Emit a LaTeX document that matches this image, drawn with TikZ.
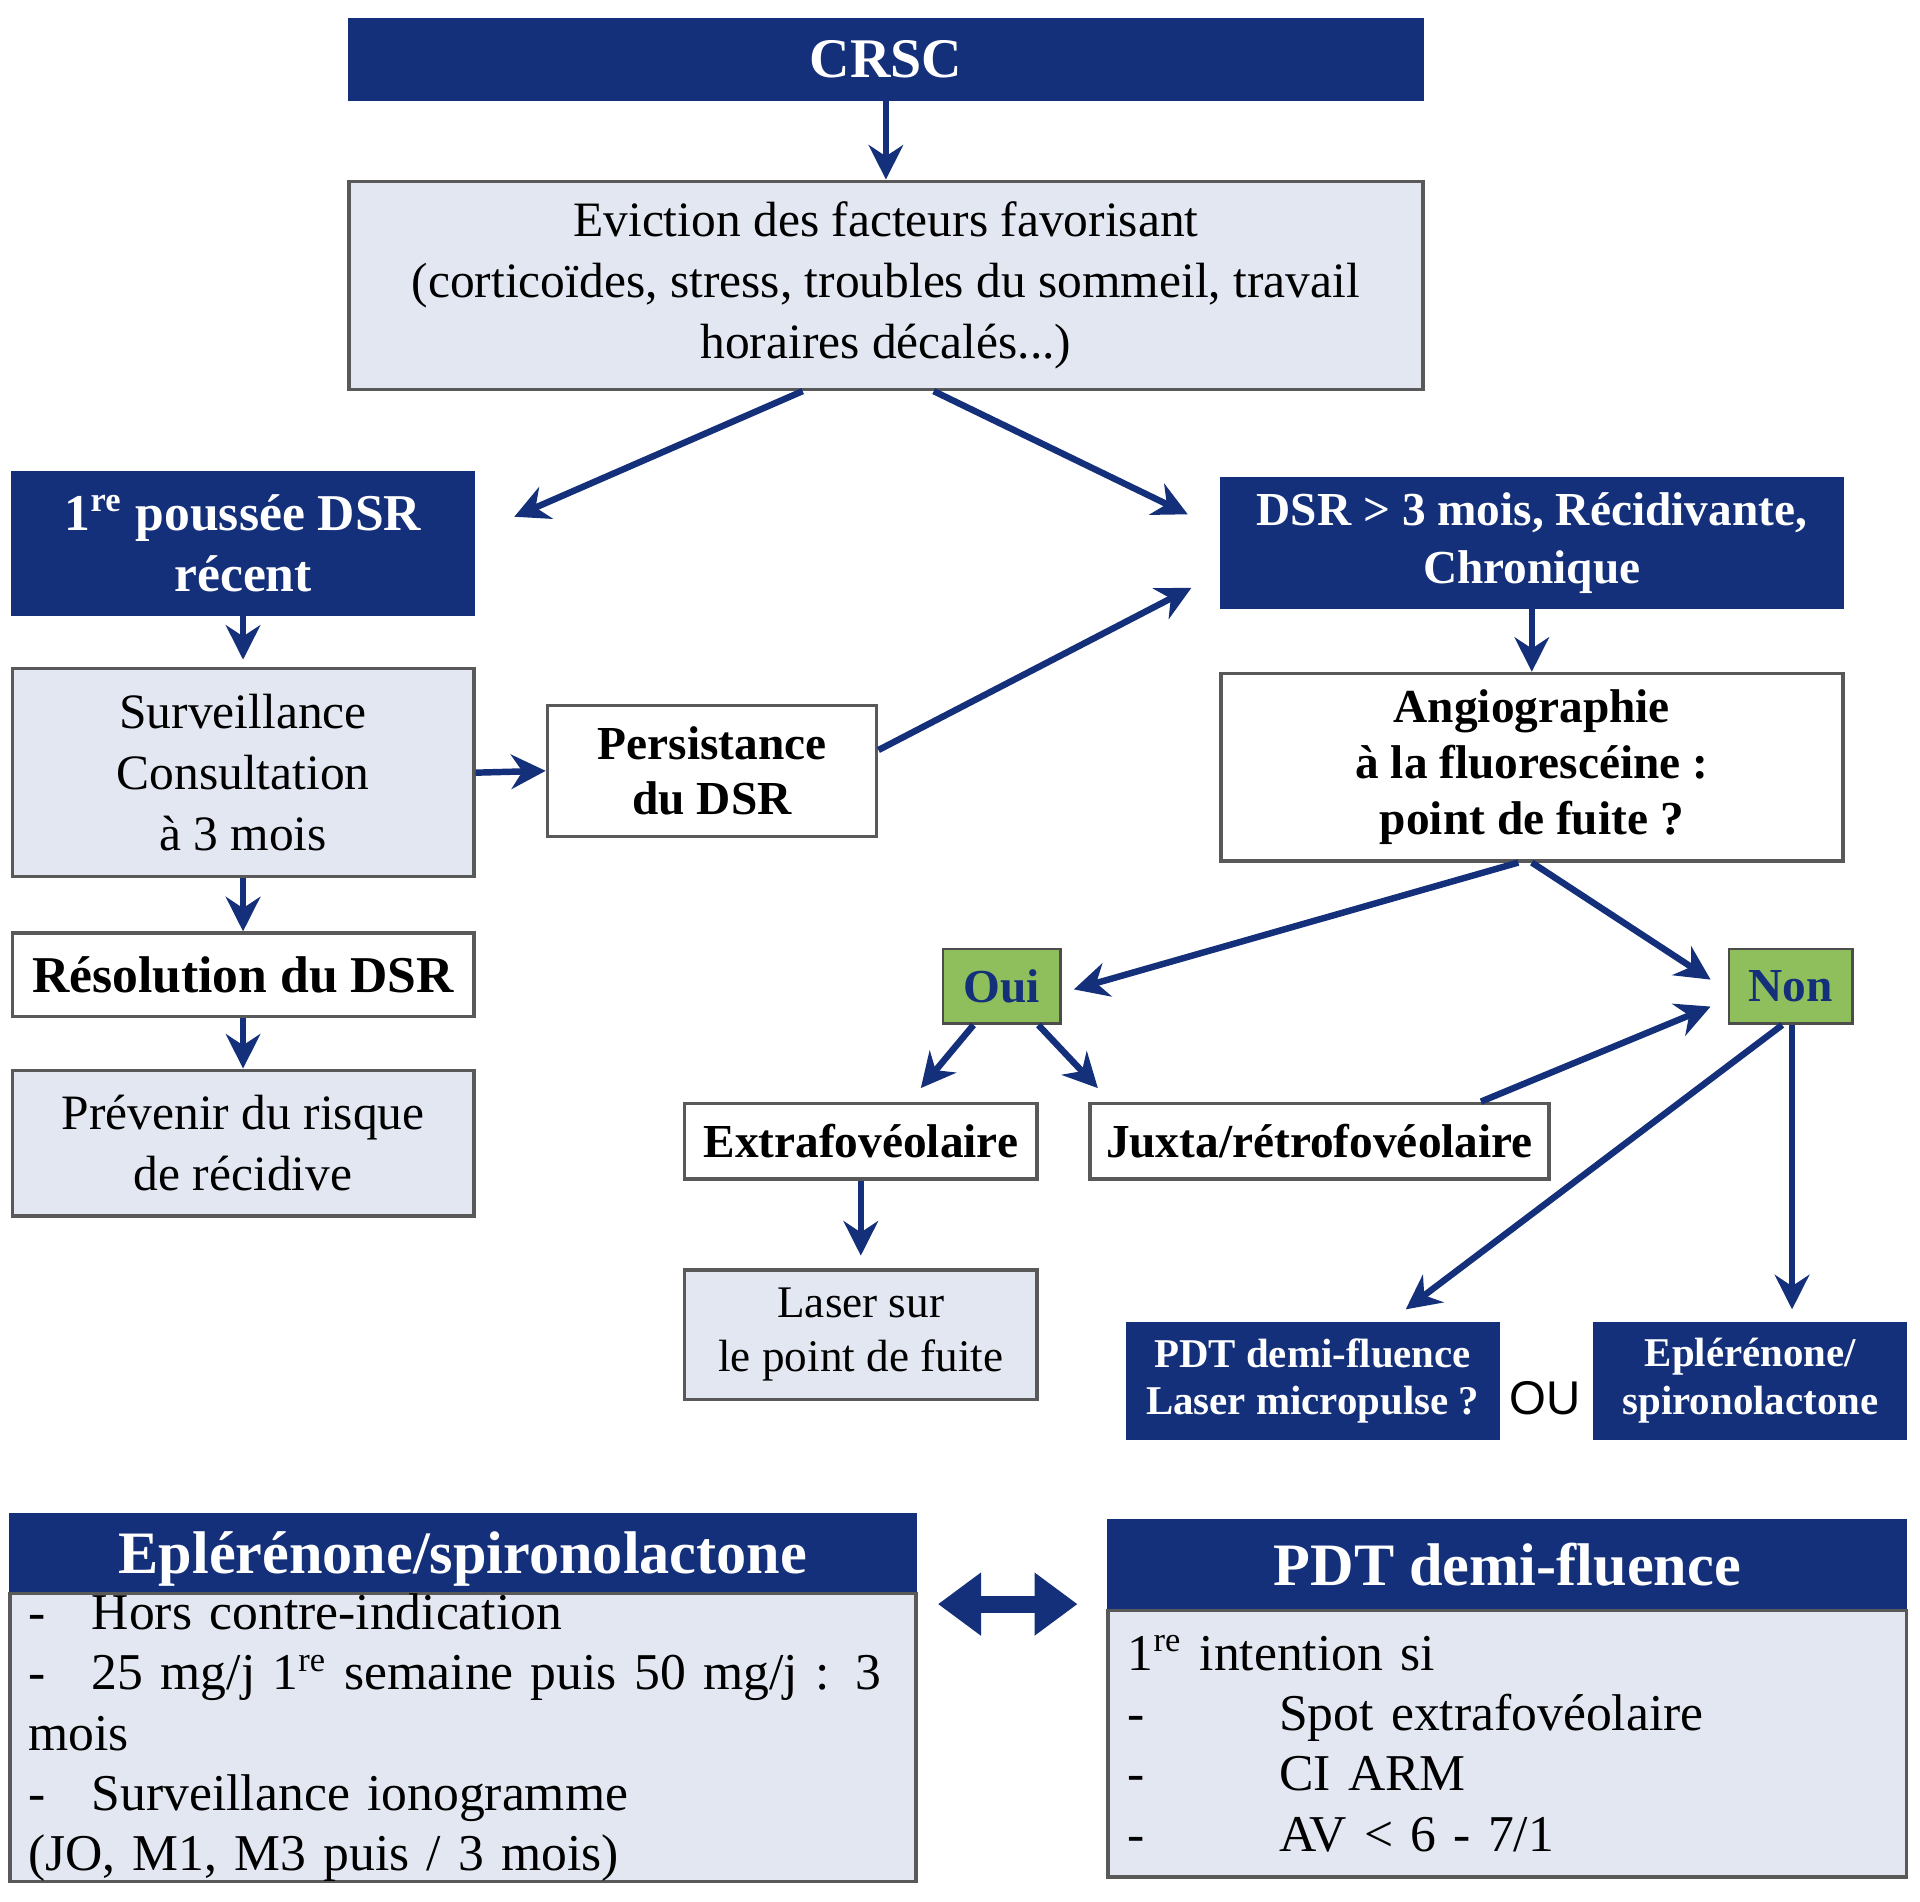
\documentclass[tikz,border=0pt]{standalone}
\usepackage{fontspec}
\setmainfont{Liberation Serif}
\newfontfamily\sansou{Liberation Sans}
\usetikzlibrary{arrows.meta,calc}
\definecolor{navy}{HTML}{14307A}
\definecolor{pale}{HTML}{E2E7F1}
\definecolor{leaf}{HTML}{8EBF5C}
\tikzset{
  dark/.style={fill=navy,draw=navy,text=white,font=\bfseries\fontsize{11}{13.5}\selectfont,align=center,inner sep=0pt},
  light/.style={fill=pale,draw=gray!70!black,line width=0.8pt,font=\fontsize{11.5}{14.2}\selectfont,align=center,inner sep=0pt},
  plain/.style={fill=white,draw=gray!70!black,line width=0.8pt,font=\bfseries\fontsize{11}{13}\selectfont,align=center,inner sep=0pt},
  yes/.style={fill=leaf,draw=gray!60!black,line width=0.6pt,font=\bfseries\fontsize{11}{13}\selectfont,text=navy,inner sep=0pt},
  arr/.style={draw=navy,line width=1.5pt,-{Stealth[length=8pt,width=8pt]}}
}
\begin{document}
\begin{tikzpicture}[x=0.1mm,y=-0.1mm]
  \useasboundingbox (0,0) rectangle (1568,1553);

  % --- top of the tree
  \node[dark,minimum width=87.7mm,minimum height=6.7mm,font=\bfseries\fontsize{13}{15}\selectfont] (crsc) at (723.5,48.5) {CRSC};
  \node[light,minimum width=87.7mm,minimum height=17mm] (evic) at (723.5,233)
    {Eviction des facteurs favorisant\\(corticoïdes, stress, troubles du sommeil, travail\\horaires décalés...)};

  % --- left branch
  \node[dark,minimum width=37.7mm,minimum height=11.7mm,font=\bfseries\fontsize{12}{14.2}\selectfont] (first) at (198.5,443.5) {1\textsuperscript{re} poussée DSR\\récent};
  \node[light,minimum width=37.7mm,minimum height=17mm] (surv) at (198.5,631) {Surveillance\\Consultation\\à 3 mois};
  \node[plain,minimum width=37.7mm,minimum height=6.8mm,font=\bfseries\fontsize{12}{14}\selectfont] (resol) at (198.5,796) {Résolution du DSR};
  \node[light,minimum width=37.7mm,minimum height=11.9mm] (prev) at (198.5,933.5) {Prévenir du risque\\de récidive};
  \node[plain,minimum width=26.9mm,minimum height=10.7mm] (pers) at (581.5,629.5) {Persistance\\du DSR};

  % --- right branch
  \node[dark,minimum width=50.8mm,minimum height=10.7mm] (chron) at (1251,443.5) {DSR > 3 mois, Récidivante,\\Chronique};
  \node[plain,minimum width=50.8mm,minimum height=15.3mm] (angio) at (1251,626.5) {Angiographie\\à la fluorescéine :\\point de fuite ?};
  \node[yes,minimum width=9.6mm,minimum height=6.1mm] (oui) at (818,805.5) {Oui};
  \node[yes,minimum width=10.1mm,minimum height=6.1mm] (non) at (1462.5,805.5) {Non};
  \node[plain,minimum width=28.8mm,minimum height=6.2mm] (extra) at (703,932) {Extrafovéolaire};
  \node[plain,minimum width=37.5mm,minimum height=6.2mm] (juxta) at (1077.5,932) {Juxta/rétrofovéolaire};
  \node[light,minimum width=28.8mm,minimum height=10.6mm,font=\fontsize{10.5}{12.5}\selectfont] (laser) at (703,1090) {Laser sur\\le point de fuite};
  \node[dark,minimum width=30.4mm,minimum height=9.5mm,font=\bfseries\fontsize{9.5}{11}\selectfont] (pdt) at (1072,1127.5) {PDT demi-fluence\\Laser micropulse ?};
  \node[dark,minimum width=25.5mm,minimum height=9.5mm,font=\bfseries\fontsize{9.5}{11}\selectfont] (eple) at (1429.5,1127.5) {Eplérénone/\\spironolactone};
  \node[font=\sansou\fontsize{11}{13}\selectfont] (ou) at (1262,1142) {OU};

  % --- bottom panels
  \node[dark,minimum width=74mm,minimum height=7.4mm,font=\bfseries\fontsize{14}{16}\selectfont] (hleft) at (378,1273) {Eplérénone/spironolactone};
  \node[light,minimum width=74mm,minimum height=21.8mm,align=left,text width=71mm,font=\fontsize{12}{14}\selectfont] (bleft) at (378,1419)
    {-\hspace{0.9em}Hors contre-indication\\-\hspace{0.9em}25 mg/j 1\textsuperscript{re} semaine puis 50 mg/j : 3 mois\\-\hspace{0.9em}Surveillance ionogramme\\(JO, M1, M3 puis / 3 mois)};
  \node[dark,minimum width=65.2mm,minimum height=7.4mm,font=\bfseries\fontsize{14}{16}\selectfont] (hright) at (1231,1278) {PDT demi-fluence};
  \node[light,minimum width=65.2mm,minimum height=21.8mm,align=left,text width=62mm,font=\fontsize{12}{14}\selectfont] (bright) at (1231,1424)
    {1\textsuperscript{re} intention si\\-\hspace{2.6em}Spot extrafovéolaire\\-\hspace{2.6em}CI ARM\\-\hspace{2.6em}AV < 6 - 7/1};

  % --- free ends of the arrows
  \coordinate (toFirst) at (420,422);
  \coordinate (toChron) at (970,420);
  \coordinate (toChronB) at (973,480);
  \coordinate (toOui) at (877,808);
  \coordinate (toNon) at (1397,800);
  \coordinate (toNonB) at (1397,822);

  % --- connectors
  \draw[arr] (crsc.south) -- (evic.north);
  \draw[arr] ($(evic.south)+(-68,0)$) -- (toFirst);
  \draw[arr] ($(evic.south)+(39,0)$) -- (toChron);
  \draw[arr] (first.south) -- ++(0,36);
  \draw[arr] (surv.east) -- (pers.west);
  \draw[arr] ($(pers.east)+(0,-17)$) -- (toChronB);
  \draw[arr] (surv.south) -- (resol.north);
  \draw[arr] (resol.south) -- (prev.north);
  \draw[arr] (chron.south) -- (angio.north);
  \draw[arr] ($(angio.south)+(-11,0)$) -- (toOui);
  \draw[arr] (angio.south) -- (toNon);
  \draw[arr] ($(oui.south)+(-23,0)$) -- ($(extra.north)+(49,-11)$);
  \draw[arr] ($(oui.south)+(30,0)$) -- ($(juxta.north west)+(8,-11)$);
  \draw[arr] ($(juxta.north)+(132,0)$) -- (toNonB);
  \draw[arr] (extra.south) -- ++(0,61);
  \draw[arr] ($(non.south)+(-7,0)$) -- ($(pdt.north)+(76,-10)$);
  \draw[arr] ($(non.south)+(1,0)$) -- ($(eple.north)+(34,-10)$);
  \draw[draw=navy,line width=4pt,{Triangle[length=10pt,width=14pt]}-{Triangle[length=10pt,width=14pt]}] (766,1310) -- (880,1310);
\end{tikzpicture}
\end{document}
